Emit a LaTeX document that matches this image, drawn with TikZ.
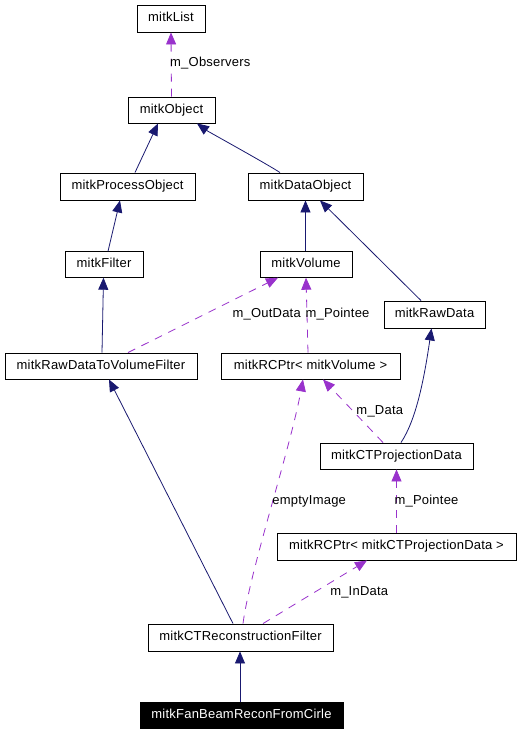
\documentclass[tikz,border=0pt]{standalone}
\usepackage{fontspec}
\setmainfont[LetterSpace=1.7]{Liberation Sans}
\usetikzlibrary{arrows.meta}
\definecolor{inhc}{HTML}{191970}
\definecolor{usec}{HTML}{9932CC}
\begin{document}
\begin{tikzpicture}[x=1pt,y=-1pt,
  box/.style={draw=black, line width=0.9pt, inner sep=0pt, font=\fontsize{13}{15}\selectfont, text height=9.5pt, text depth=2.8pt, anchor=center},
  lbl/.style={inner sep=0pt, font=\fontsize{13}{15}\selectfont, text height=9.5pt, text depth=2.8pt, anchor=center},
  inh/.style={draw=inhc, line width=0.8pt, -{Triangle[length=12pt,width=10pt]}},
  usage/.style={draw=usec, line width=0.8pt, dash pattern=on 8pt off 7pt, -{Triangle[length=12pt,width=10pt]}}]
\fill[white] (0,0) rectangle (520,733);
\useasboundingbox (0,0) rectangle (520,733);
% nodes
\node[box, minimum width=68pt, minimum height=27pt] (list) at (171,18.5) {mitkList};
\node[box, minimum width=87pt, minimum height=26pt] (obj) at (171.5,110) {mitkObject};
\node[box, minimum width=135pt, minimum height=27pt] (po) at (127.5,186.5) {mitkProcessObject};
\node[box, minimum width=115pt, minimum height=27pt] (do) at (305.5,186.5) {mitkDataObject};
\node[box, minimum width=78pt, minimum height=25.5pt] (filt) at (104,264.5) {mitkFilter};
\node[box, minimum width=92pt, minimum height=25.5pt] (vol) at (306,264.5) {mitkVolume};
\node[box, minimum width=101pt, minimum height=27pt] (raw) at (434.5,314.5) {mitkRawData};
\node[box, minimum width=192pt, minimum height=26pt] (rdtvf) at (101,366) {mitkRawDataToVolumeFilter};
\node[box, minimum width=179pt, minimum height=26pt] (rcpv) at (310.5,366) {mitkRCPtr< mitkVolume >};
\node[box, minimum width=153pt, minimum height=26pt] (ctp) at (396.5,456) {mitkCTProjectionData};
\node[box, minimum width=239pt, minimum height=27pt] (rcpct) at (396.5,546.5) {mitkRCPtr< mitkCTProjectionData >};
\node[box, minimum width=185pt, minimum height=27pt] (ctr) at (240.5,637.5) {mitkCTReconstructionFilter};
\node[box, fill=black, text=white, minimum width=203pt, minimum height=26pt] (fan) at (241.5,715) {mitkFanBeamReconFromCirle};
% inheritance edges
\draw[inh] ([xshift=7.5pt]po.north) -- ([xshift=-13.5pt]obj.south);
\draw[inh] ([xshift=-25.5pt]do.north) .. controls +(-12,-8) and +(11,8) .. ([xshift=25.5pt]obj.south);
\draw[inh] ([xshift=4pt]filt.north) -- ([xshift=-7.5pt]po.south);
\draw[inh] ([xshift=-0.5pt]vol.north) -- (do.south);
\draw[inh] ([xshift=-13.5pt]raw.north) -- ([xshift=14.5pt]do.south);
\draw[inh] ([xshift=1pt]rdtvf.north) -- ([xshift=-0.5pt]filt.south);
\draw[inh] ([xshift=4.5pt]ctp.north) .. controls (416,420) and (424,380) .. ([xshift=-3pt]raw.south);
\draw[inh] ([xshift=-7.5pt]ctr.north) -- ([xshift=8pt]rdtvf.south);
\draw[inh] ([xshift=-1.5pt]fan.north) -- ([xshift=-0.5pt]ctr.south);
% usage edges
\draw[usage] (obj.north) -- (list.south);
\draw[usage] ([xshift=27pt]rdtvf.north) -- ([xshift=-28pt]vol.south);
\draw[usage] ([xshift=-2.5pt]rcpv.north) -- (vol.south);
\draw[usage] ([xshift=-13.5pt]ctp.north) -- ([xshift=12.5pt]rcpv.south);
\draw[usage] ([xshift=2.5pt]ctr.north) .. controls (250,570) and (290,450) .. ([xshift=-7.5pt]rcpv.south);
\draw[usage] (rcpct.north) -- (ctp.south);
\draw[usage] ([xshift=22.5pt]ctr.north) -- ([xshift=-29.5pt]rcpct.south);
% labels
\node[lbl] (l1) at (210.3,63.3) {m\_Observers};
\node[lbl] (l2) at (266.7,314.3) {m\_OutData};
\node[lbl] (l3) at (337.5,314.3) {m\_Pointee};
\node[lbl] (l4) at (379.8,410.7) {m\_Data};
\node[lbl] (l5) at (309.2,500.7) {emptyImage};
\node[lbl] (l6) at (426.5,500.7) {m\_Pointee};
\node[lbl] (l7) at (359.2,591.7) {m\_InData};
\end{tikzpicture}
\end{document}
